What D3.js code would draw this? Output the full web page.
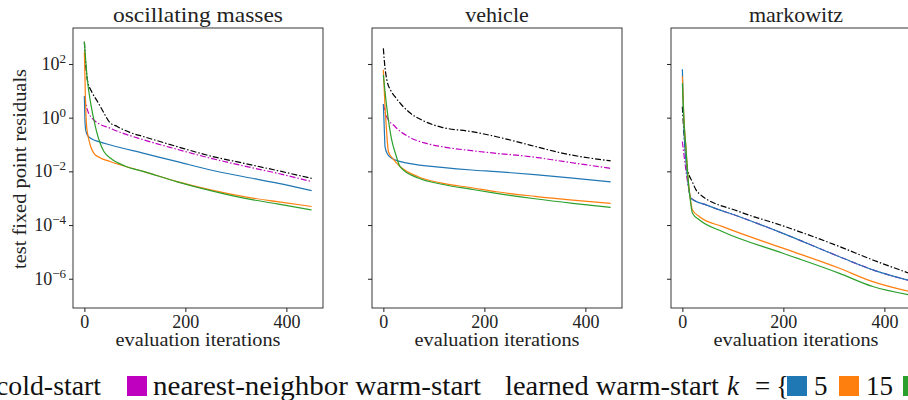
<!DOCTYPE html>
<html>
<head>
<meta charset="utf-8">
<script src="https://cdn.jsdelivr.net/npm/d3@7"></script>
</head>
<body style="margin:0">
<svg id="chart" width="908" height="400"></svg>
<script>
/* panel titles and axis ticks */
var panelTitles = ["oscillating masses", "vehicle", "markowitz"];
var iterTicks = [0, 200, 400];
var yTickExps = [2, 0, -2, -4, -6];

/* series (log10 of the residual) */
// oscillating masses
var massesColdIt  = [0, 3, 6, 15, 26, 38, 49, 65, 90, 118, 184, 250, 316, 382, 450];
var massesColdLog = [2.83, 1.9, 1.4, 0.95, 0.6, 0.2, -0.15, -0.33, -0.55, -0.71, -1.08, -1.43, -1.7, -1.97, -2.26];
var massesNNIt    = [0, 6, 19, 52, 118, 184, 250, 316, 382, 450];
var massesNNLog   = [0.78, 0.29, -0.09, -0.4, -0.83, -1.18, -1.51, -1.8, -2.07, -2.38];
var masses5It     = [0, 1, 2.6, 6, 12.5, 30, 52, 118, 184, 250, 316, 382, 450];
var masses5Log    = [0.8, 0.0, -0.46, -0.65, -0.77, -0.9, -1.02, -1.33, -1.64, -1.95, -2.2, -2.44, -2.72];
var masses15It    = [0, 2, 4, 6, 9, 13, 19, 30, 52, 118, 184, 250, 316, 382, 450];
var masses15Log   = [2.46, 0.8, -0.2, -0.55, -0.83, -1.1, -1.33, -1.48, -1.64, -2.01, -2.38, -2.69, -2.94, -3.13, -3.31];
var masses50It    = [0, 6, 12, 19, 24, 29, 39, 52, 80, 118, 184, 250, 316, 382, 450];
var masses50Log   = [2.83, 1.4, 0.6, -0.09, -0.5, -0.83, -1.27, -1.51, -1.8, -2.01, -2.39, -2.72, -3.0, -3.21, -3.44];

// vehicle
var vehicleColdIt  = [0, 3, 7, 15, 23, 35, 50, 83, 116, 175, 224, 290, 356, 450];
var vehicleColdLog = [2.58, 1.9, 1.4, 1.0, 0.78, 0.5, 0.22, -0.15, -0.36, -0.52, -0.71, -1.02, -1.33, -1.61];
var vehicleNNIt    = [0, 6, 23, 50, 83, 116, 175, 224, 290, 356, 450];
var vehicleNNLog   = [0.5, 0.06, -0.33, -0.71, -0.95, -1.08, -1.23, -1.33, -1.45, -1.63, -1.89];
var vehicle5It     = [0, 2, 3.3, 8, 16.5, 30, 50, 116, 175, 224, 300, 375, 450];
var vehicle5Log    = [0.5, -0.5, -1.08, -1.35, -1.51, -1.62, -1.7, -1.85, -1.95, -2.01, -2.12, -2.25, -2.39];
var vehicle15It    = [0, 3, 6, 10, 20, 33, 69, 116, 175, 224, 300, 375, 450];
var vehicle15Log   = [1.78, 0.5, -0.4, -1.27, -1.55, -1.82, -2.2, -2.44, -2.61, -2.76, -2.93, -3.07, -3.19];
var vehicle50It    = [0, 6.6, 16.5, 25, 33, 69, 116, 175, 224, 300, 375, 450];
var vehicle50Log   = [1.59, 0.41, -0.83, -1.4, -1.82, -2.25, -2.48, -2.67, -2.82, -3.02, -3.19, -3.34];

// markowitz
var markowitzColdIt  = [0, 4, 7, 10.5, 20, 27, 34, 113, 199, 311, 377, 450];
var markowitzColdLog = [0.41, -0.8, -1.4, -1.95, -2.4, -2.69, -2.84, -3.5, -4.03, -4.8, -5.3, -5.8];
var markowitzNNIt    = [0, 4, 8, 13, 17, 47, 113, 199, 311, 377, 450];
var markowitzNNLog   = [-0.89, -1.5, -2.1, -2.7, -3.0, -3.25, -3.69, -4.31, -5.18, -5.67, -6.07];
var markowitz5It     = [0, 2, 4, 7, 10, 13, 17, 47, 113, 199, 311, 377, 450];
var markowitz5Log    = [1.8, 0.3, -0.8, -1.6, -2.2, -2.7, -3.0, -3.25, -3.69, -4.31, -5.18, -5.67, -6.07];
var markowitz15It    = [0, 3, 7, 11, 15, 20, 34, 80, 199, 311, 377, 450];
var markowitz15Log   = [1.53, 0.0, -1.08, -2.2, -2.9, -3.44, -3.69, -4.06, -4.86, -5.61, -6.11, -6.48];
var markowitz50It    = [0, 3, 7, 11, 15, 20, 34, 80, 199, 311, 377, 450];
var markowitz50Log   = [1.28, -0.1, -1.1, -2.2, -2.95, -3.56, -3.81, -4.25, -5.05, -5.8, -6.29, -6.6];

var seriesStyle = [
  { color: "#000000", dash: "6,2,1.5,2" },   // cold-start
  { color: "#bf00bf", dash: "6,2,1.5,2" },   // nearest-neighbor
  { color: "#1f77b4", dash: null },          // k = 5
  { color: "#ff7f0e", dash: null },          // k = 15
  { color: "#2ca02c", dash: null }           // k = 50
];

var panelData = [
  [[massesColdIt, massesColdLog], [massesNNIt, massesNNLog], [masses5It, masses5Log], [masses15It, masses15Log], [masses50It, masses50Log]],
  [[vehicleColdIt, vehicleColdLog], [vehicleNNIt, vehicleNNLog], [vehicle5It, vehicle5Log], [vehicle15It, vehicle15Log], [vehicle50It, vehicle50Log]],
  [[markowitzColdIt, markowitzColdLog], [markowitzNNIt, markowitzNNLog], [markowitz5It, markowitz5Log], [markowitz15It, markowitz15Log], [markowitz50It, markowitz50Log]]
];

/* layout */
var serif = "Liberation Serif";
var svg = d3.select("#chart").attr("font-family", serif);
var panelLeft = [73, 372, 671];
var panelW = 250, panelTop = 28, panelH = 280;
var ink = "#222";

var yScale = d3.scaleLog()
  .domain([Math.pow(10, -7.09), Math.pow(10, 3.34)])
  .range([panelTop + panelH, panelTop]);

function expText(e) { return String(e).replace("-", "\u2212"); }

panelLeft.forEach(function (left, p) {
  var xScale = d3.scaleLinear().domain([-22.5, 472.5]).range([left, left + panelW]);
  var g = svg.append("g").attr("font-family", serif);

  var line = d3.line()
    .x(function (d) { return xScale(d[0]); })
    .y(function (d) { return yScale(d[1]); })
    .curve(d3.curveMonotoneX);

  // draw order: cold, nn, 5, 15, 50
  panelData[p].forEach(function (s, i) {
    var pts = s[0].map(function (it, j) { return [it, Math.pow(10, s[1][j])]; });
    g.append("path")
      .attr("d", line(pts))
      .attr("fill", "none")
      .attr("stroke", seriesStyle[i].color)
      .attr("stroke-width", 1.2)
      .attr("stroke-dasharray", seriesStyle[i].dash);
  });

  // frame
  g.append("rect")
    .attr("x", left).attr("y", panelTop)
    .attr("width", panelW).attr("height", panelH)
    .attr("fill", "none").attr("stroke", ink).attr("stroke-width", 0.9);

  // x axis
  var xAxis = d3.axisBottom(xScale).tickValues(iterTicks).tickSize(4).tickSizeOuter(0);
  var xg = g.append("g").attr("transform", "translate(0," + (panelTop + panelH) + ")").call(xAxis)
    .attr("font-family", serif);
  xg.select(".domain").remove();
  xg.selectAll("line").attr("stroke", ink);
  xg.selectAll("text").attr("font-size", 18).attr("fill", ink).attr("y", 7);

  g.append("text")
    .attr("x", left + panelW / 2).attr("y", 346)
    .attr("text-anchor", "middle").attr("font-size", 18).attr("fill", ink)
    .attr("textLength", 165).attr("lengthAdjust", "spacingAndGlyphs")
    .text("evaluation iterations");

  // y axis (labels only on the first panel)
  var yAxis = d3.axisLeft(yScale)
    .tickValues(yTickExps.map(function (e) { return Math.pow(10, e); }))
    .tickSize(4).tickSizeOuter(0).tickFormat("");
  var yg = g.append("g").attr("transform", "translate(" + left + ",0)").call(yAxis);
  yg.select(".domain").remove();
  yg.selectAll("line").attr("stroke", ink);

  if (p === 0) {
    yTickExps.forEach(function (e) {
      var t = g.append("text")
        .attr("x", 66).attr("y", yScale(Math.pow(10, e)) + 6)
        .attr("text-anchor", "end").attr("font-size", 18).attr("fill", ink);
      t.append("tspan").text("10");
      t.append("tspan").attr("font-size", 13).attr("dy", -7).text(expText(e));
    });
    g.append("text")
      .attr("transform", "translate(26,169) rotate(-90)")
      .attr("text-anchor", "middle").attr("font-size", 18).attr("fill", ink)
      .attr("textLength", 200).attr("lengthAdjust", "spacingAndGlyphs")
      .text("test fixed point residuals");
  }

  // title
  var title = g.append("text")
    .attr("x", left + panelW / 2).attr("y", 22)
    .attr("text-anchor", "middle").attr("font-size", 22).attr("fill", ink)
    .text(panelTitles[p]);
  if (p === 0) title.attr("textLength", 170).attr("lengthAdjust", "spacingAndGlyphs");
});

/* legend */
var legendLabels = ["cold-start", "nearest-neighbor warm-start", "learned warm-start", "5", "15", "50"];
var lg = svg.append("g").attr("font-size", 27).attr("fill", "#111").attr("font-family", serif);
var baseY = 395;

lg.append("rect").attr("x", -30).attr("y", 376).attr("width", 20).attr("height", 20).attr("fill", seriesStyle[0].color);
lg.append("text").attr("x", -4).attr("y", baseY).attr("textLength", 105).attr("lengthAdjust", "spacingAndGlyphs").text(legendLabels[0]);

lg.append("rect").attr("x", 127).attr("y", 376).attr("width", 20).attr("height", 20).attr("fill", seriesStyle[1].color);
lg.append("text").attr("x", 153).attr("y", baseY).attr("textLength", 328).attr("lengthAdjust", "spacingAndGlyphs").text(legendLabels[1]);

lg.append("text").attr("x", 505).attr("y", baseY).attr("textLength", 214).attr("lengthAdjust", "spacingAndGlyphs").text(legendLabels[2]);
lg.append("text").attr("x", 727).attr("y", baseY).attr("font-style", "italic").text("k");
lg.append("text").attr("x", 755).attr("y", baseY).text("=");
lg.append("text").attr("x", 776).attr("y", baseY).text("{");

[[2, 787, 814], [3, 839, 866], [4, 903, 930]].forEach(function (d, i) {
  lg.append("rect").attr("x", d[1]).attr("y", 376).attr("width", 20).attr("height", 20).attr("fill", seriesStyle[d[0]].color);
  lg.append("text").attr("x", d[2]).attr("y", baseY).text(legendLabels[3 + i]);
});
</script>
</body>
</html>
